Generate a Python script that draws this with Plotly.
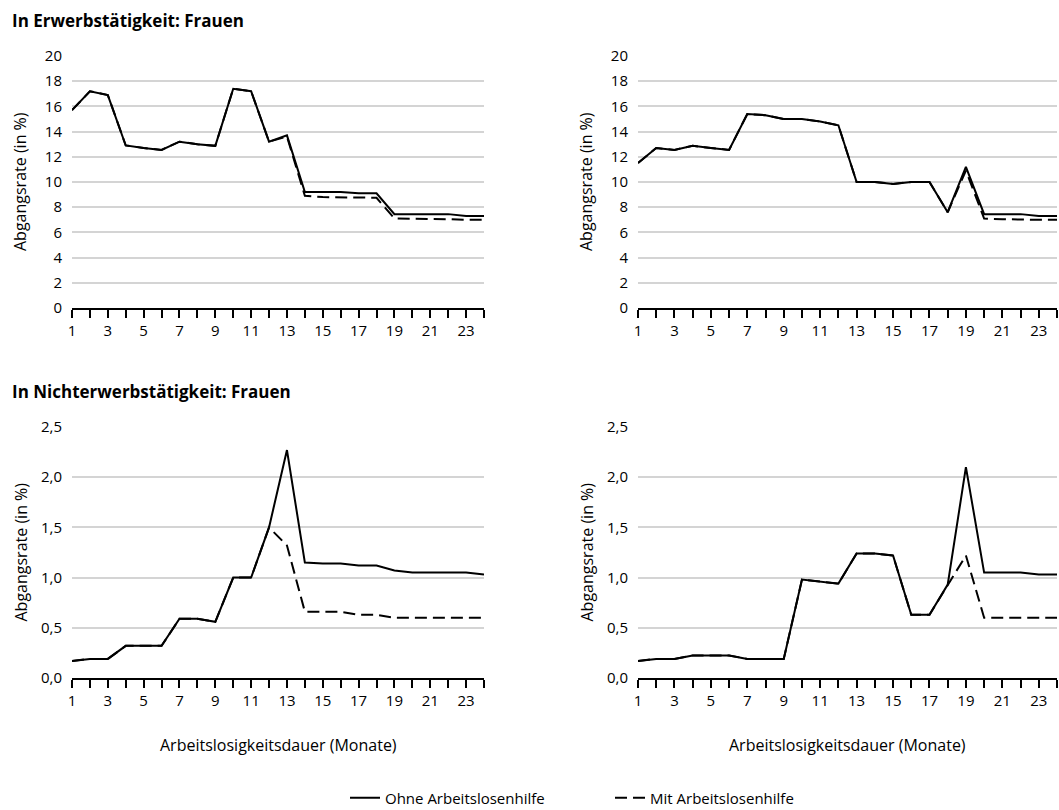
import plotly.graph_objects as go

months = list(range(1, 25))
tick_text = [str(m) if m % 2 == 1 else "" for m in months]

# Panel 1: In Erwerbstätigkeit, Frauen (left)
erw_l_ohne = [15.7, 17.2, 16.9, 12.9, 12.7, 12.55, 13.2, 13.0, 12.87, 17.4, 17.2, 13.2,
              13.7, 9.2, 9.2, 9.2, 9.1, 9.1, 7.45, 7.45, 7.45, 7.45, 7.3, 7.3]
erw_l_mit = [15.7, 17.2, 16.9, 12.9, 12.7, 12.55, 13.2, 13.0, 12.87, 17.4, 17.2, 13.2,
             13.6, 8.9, 8.8, 8.8, 8.75, 8.75, 7.1, 7.1, 7.05, 7.05, 7.0, 7.0]
# Panel 2: In Erwerbstätigkeit (right)
erw_r_ohne = [11.5, 12.7, 12.55, 12.87, 12.7, 12.55, 15.4, 15.3, 15.0, 15.0, 14.8, 14.5,
              10.0, 10.0, 9.85, 10.0, 10.0, 7.6, 11.2, 7.45, 7.45, 7.45, 7.3, 7.3]
erw_r_mit = [11.5, 12.7, 12.55, 12.87, 12.7, 12.55, 15.4, 15.3, 15.0, 15.0, 14.8, 14.5,
             10.0, 10.0, 9.85, 10.0, 10.0, 7.6, 10.9, 7.1, 7.05, 7.0, 7.0, 7.0]
# Panel 3: In Nichterwerbstätigkeit, Frauen (left)
nerw_l_ohne = [0.17, 0.19, 0.19, 0.32, 0.32, 0.32, 0.59, 0.59, 0.56, 1.0, 1.0, 1.5,
               2.27, 1.15, 1.14, 1.14, 1.12, 1.12, 1.07, 1.05, 1.05, 1.05, 1.05, 1.03]
nerw_l_mit = [0.17, 0.19, 0.19, 0.32, 0.32, 0.32, 0.59, 0.59, 0.56, 1.0, 1.0, 1.5,
              1.32, 0.66, 0.66, 0.66, 0.63, 0.63, 0.60, 0.60, 0.60, 0.60, 0.60, 0.60]
# Panel 4: In Nichterwerbstätigkeit (right)
nerw_r_ohne = [0.17, 0.19, 0.19, 0.225, 0.225, 0.225, 0.19, 0.19, 0.19, 0.98, 0.96, 0.94,
               1.24, 1.24, 1.22, 0.63, 0.63, 0.93, 2.1, 1.05, 1.05, 1.05, 1.03, 1.03]
nerw_r_mit = [0.17, 0.19, 0.19, 0.225, 0.225, 0.225, 0.19, 0.19, 0.19, 0.98, 0.96, 0.94,
              1.24, 1.24, 1.22, 0.63, 0.63, 0.93, 1.22, 0.60, 0.60, 0.60, 0.60, 0.60]

title_top = "In Erwerbstätigkeit: Frauen"
title_bottom = "In Nichterwerbstätigkeit: Frauen"
y_title = "Abgangsrate (in %)"
x_title = "Arbeitslosigkeitsdauer (Monate)"
name_ohne = "Ohne Arbeitslosenhilfe"
name_mit = "Mit Arbeitslosenhilfe"

W, H = 1059, 810
FONT = "Open Sans, sans-serif"

def px_x(p):
    return p / W

def px_y(p):
    return 1 - p / H

panels = [
    # (xaxis id, yaxis id, x px range, y px range (top,bottom), yrange, dtick, fmt, ohne, mit)
    ("x", "y", (72, 484), (56, 308), [0, 20], 2, "d", erw_l_ohne, erw_l_mit),
    ("x2", "y2", (638, 1057), (56, 308), [0, 20], 2, "d", erw_r_ohne, erw_r_mit),
    ("x3", "y3", (72, 484), (427, 678), [0, 2.5], 0.5, ".1f", nerw_l_ohne, nerw_l_mit),
    ("x4", "y4", (638, 1057), (427, 678), [0, 2.5], 0.5, ".1f", nerw_r_ohne, nerw_r_mit),
]

fig = go.Figure()
layout = {}
annotations = []
for i, (xa, ya, xr, yr, yrange, dtick, fmt, ohne, mit) in enumerate(panels):
    show = (i == 0)
    fig.add_trace(go.Scatter(x=months, y=mit, xaxis=xa, yaxis=ya, mode="lines",
                             name=name_mit, legendrank=2, showlegend=show,
                             line=dict(color="black", width=2, dash="12px,6px")))
    fig.add_trace(go.Scatter(x=months, y=ohne, xaxis=xa, yaxis=ya, mode="lines",
                             name=name_ohne, legendrank=1, showlegend=show,
                             line=dict(color="black", width=2)))
    xkey = "xaxis" + xa[1:]
    ykey = "yaxis" + ya[1:]
    layout[xkey] = dict(
        domain=[px_x(xr[0]), px_x(xr[1])], anchor=ya, range=[1, 24],
        tickvals=months, ticktext=tick_text, ticks="outside", ticklen=8,
        tickwidth=1.5, tickcolor="black", showline=True, linecolor="black",
        linewidth=1.8, showgrid=False, zeroline=False, automargin=False,
        tickfont=dict(family=FONT, size=15, color="black"),
    )
    layout[ykey] = dict(
        domain=[px_y(yr[1]), px_y(yr[0])], anchor=xa, range=yrange, dtick=dtick,
        tickformat=fmt, showgrid=True, gridcolor="#d4d4d4", gridwidth=1.5,
        zeroline=False, showline=False, ticks="", ticklabelstandoff=9,
        automargin=False,
        tickfont=dict(family=FONT, size=15, color="black"),
    )
    # y-axis title
    annotations.append(dict(
        text=y_title, textangle=-90, xref="paper", yref="paper",
        x=px_x(xr[0] - 52), y=px_y((yr[0] + yr[1]) / 2), xanchor="center",
        yanchor="middle", showarrow=False,
        font=dict(family=FONT, size=16, color="black")))
    if i >= 2:
        annotations.append(dict(
            text=x_title, xref="paper", yref="paper",
            x=px_x((xr[0] + xr[1]) / 2), y=px_y(745), xanchor="center",
            yanchor="middle", showarrow=False,
            font=dict(family=FONT, size=16, color="black")))

annotations.append(dict(text="<b>" + title_top + "</b>", xref="paper", yref="paper",
                        x=px_x(10), y=px_y(20), xanchor="left", yanchor="middle",
                        showarrow=False, font=dict(family=FONT, size=17, color="black")))
annotations.append(dict(text="<b>" + title_bottom + "</b>", xref="paper", yref="paper",
                        x=px_x(10), y=px_y(391), xanchor="left", yanchor="middle",
                        showarrow=False, font=dict(family=FONT, size=17, color="black")))

fig.update_layout(
    width=W, height=H, margin=dict(l=0, r=0, t=0, b=0, autoexpand=False),
    paper_bgcolor="white", plot_bgcolor="white",
    separators=",.",
    annotations=annotations,
    legend=dict(orientation="h", x=px_x(345), y=px_y(798), xanchor="left",
                yanchor="middle", font=dict(family=FONT, size=15, color="black"),
                traceorder="normal", entrywidth=220, bgcolor="rgba(0,0,0,0)"),
    **layout,
)

fig.write_html("out.html",
               config={"displayModeBar": False},
               post_script="document.body.style.margin='0px';"
                           "document.body.style.overflow='hidden';")
